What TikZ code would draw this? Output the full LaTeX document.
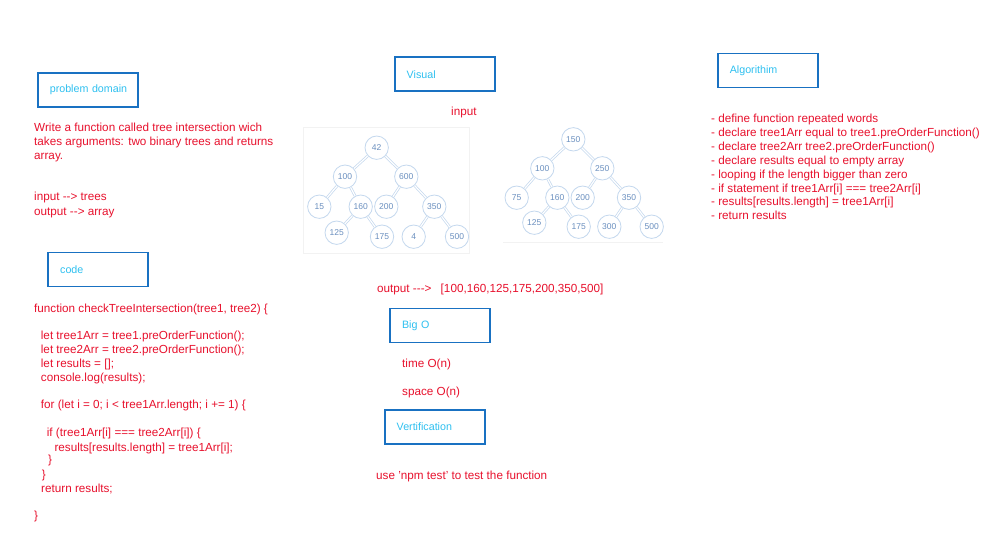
\documentclass[tikz,border=0pt]{standalone}
\usepackage{fontspec}
\setmainfont{Liberation Sans}
\usepackage{tikz}

\definecolor{boxblue}{HTML}{1971C2}
\definecolor{titlecyan}{HTML}{2EC0F0}
\definecolor{notered}{HTML}{E8112D}
\definecolor{treeline}{HTML}{C4D8EE}
\definecolor{treetext}{HTML}{6A8FBF}

\tikzset{
  secbox/.style={draw=boxblue, line width=1.6pt, minimum height=34pt, inner xsep=12pt,
    text width=76pt, align=left, text=titlecyan, font=\fontsize{10.7}{12}\selectfont},
  note/.style={anchor=base west, inner sep=0pt, text=notered, font=\fontsize{11.7}{13}\selectfont},
  tnode/.style={draw=treeline, circle, fill=white, line width=0.8pt, minimum size=23.4pt,
    inner sep=0pt, text=treetext, font=\fontsize{8.5}{10}\selectfont},
  tedge/.style={draw=treeline, double=white, double distance=1.2pt, line width=0.7pt}
}

\begin{document}
\begin{tikzpicture}[x=1pt, y=-1pt]
\useasboundingbox (0,0) rectangle (1002,554);
\fill[white] (0,0) rectangle (1002,554);

% section boxes
\node[secbox] (pd) at (87.8,89.7) {\mbox{problem domain}};
\node[secbox] (codebox) at (98.2,269.3) {code};
\node[secbox] (visual) at (444.7,74.2) {Visual};
\node[secbox] (algo) at (767.8,70.3) {Algorithim};
\node[secbox] (bigo) at (440,325.3) {Big O};
\node[secbox] (verif) at (434.7,426.7) {Vertification};

% problem domain
\node[note] (pd1) at (34,131) {Write a function called tree intersection wich};
\node[note] (pd2) at (34,145.4) {takes arguments: two binary trees and returns};
\node[note] (pd3) at (34,159.7) {array.};
\node[note] (pdin) at (34,200.4) {input -\kern0pt-\kern0pt> trees};
\node[note] (pdout) at (34,215.4) {output -\kern0pt-\kern0pt> array};

% code
\foreach \n/\x/\y/\t in {
  1/34/312/{function checkTreeIntersection(tree1, tree2) \{},
  2/40.7/339.7/{let tree1Arr = tree1.preOrderFunction();},
  3/40.7/353/{let tree2Arr = tree2.preOrderFunction();},
  4/40.7/367/{let results = [];},
  5/40.7/381/{console.log(results);},
  6/40.7/408.7/{for (let i = 0; i < tree1Arr.length; i += 1) \{},
  7/46.7/436.4/{if (tree1Arr[i] === tree2Arr[i]) \{},
  8/54.3/451/{results[results.length] = tree1Arr[i];},
  9/48/463.7/{\}},
  10/41.7/478/{\}},
  11/41/492/{return results;},
  12/34/519.7/{\}}}
  \node[note] (code\n) at (\x,\y) {\t};

% algorithm
\foreach \n/\y/\t in {
  1/122/{- define function repeated words},
  2/136.4/{- declare tree1Arr equal to tree1.preOrderFunction()},
  3/150.7/{- declare tree2Arr tree2.preOrderFunction()},
  4/164.7/{- declare results equal to empty array},
  5/178.2/{- looping if the length bigger than zero},
  6/192.2/{- if statement if tree1Arr[i] === tree2Arr[i]},
  7/205.7/{- results[results.length] = tree1Arr[i]},
  8/219.7/{- return results}}
  \node[note] (alg\n) at (711,\y) {\t};

% visual
\node[note] (inp) at (451,115.7) {input};
\draw[black!5] (303,127) rectangle (469,253);
\draw[black!5] (503,242) -- (663,242);

% first tree
\node[tnode] (T1N0) at (376.7,147.7) {42};
\node[tnode] (T1N1) at (345,176.7) {100};
\node[tnode] (T1N2) at (406.3,176.7) {600};
\node[tnode] (T1N3) at (319.3,206.7) {15};
\node[tnode] (T1N4) at (360.7,206.7) {160};
\node[tnode] (T1N5) at (386.3,206.7) {200};
\node[tnode] (T1N6) at (434.3,206.7) {350};
\node[tnode] (T1N7) at (336.7,232.7) {125};
\node[tnode] (T1N8) at (382,236.7) {175};
\node[tnode] (T1N9) at (413.7,236.7) {4};
\node[tnode] (T1N10) at (457,236.7) {500};
\draw[tedge] (T1N0) -- (T1N1);
\draw[tedge] (T1N0) -- (T1N2);
\draw[tedge] (T1N1) -- (T1N3);
\draw[tedge] (T1N1) -- (T1N4);
\draw[tedge] (T1N2) -- (T1N5);
\draw[tedge] (T1N2) -- (T1N6);
\draw[tedge] (T1N4) -- (T1N7);
\draw[tedge] (T1N4) -- (T1N8);
\draw[tedge] (T1N6) -- (T1N9);
\draw[tedge] (T1N6) -- (T1N10);

% second tree
\node[tnode] (T2N0) at (573.3,139.3) {150};
\node[tnode] (T2N1) at (542.3,168.3) {100};
\node[tnode] (T2N2) at (602.3,168.3) {250};
\node[tnode] (T2N3) at (516.7,197.7) {75};
\node[tnode] (T2N4) at (557.3,197.7) {160};
\node[tnode] (T2N5) at (582.7,197.7) {200};
\node[tnode] (T2N6) at (629,197.7) {350};
\node[tnode] (T2N7) at (534.3,222.7) {125};
\node[tnode] (T2N8) at (578.7,226.7) {175};
\node[tnode] (T2N9) at (609.3,226.7) {300};
\node[tnode] (T2N10) at (651.7,226.7) {500};
\draw[tedge] (T2N0) -- (T2N1);
\draw[tedge] (T2N0) -- (T2N2);
\draw[tedge] (T2N1) -- (T2N3);
\draw[tedge] (T2N1) -- (T2N4);
\draw[tedge] (T2N2) -- (T2N5);
\draw[tedge] (T2N2) -- (T2N6);
\draw[tedge] (T2N4) -- (T2N7);
\draw[tedge] (T2N4) -- (T2N8);
\draw[tedge] (T2N6) -- (T2N9);
\draw[tedge] (T2N6) -- (T2N10);

\node[note] (outp) at (377,292.7) {output -\kern0pt-\kern0pt-\kern0pt>\hspace{6pt} [100,160,125,175,200,350,500]};

% big o and verification
\node[note] (tm) at (402,367.7) {time O(n)};
\node[note] (sp) at (402,395.4) {space O(n)};
\node[note] (npm) at (376,479.4) {use 'npm test' to test the function};
\end{tikzpicture}
\end{document}
